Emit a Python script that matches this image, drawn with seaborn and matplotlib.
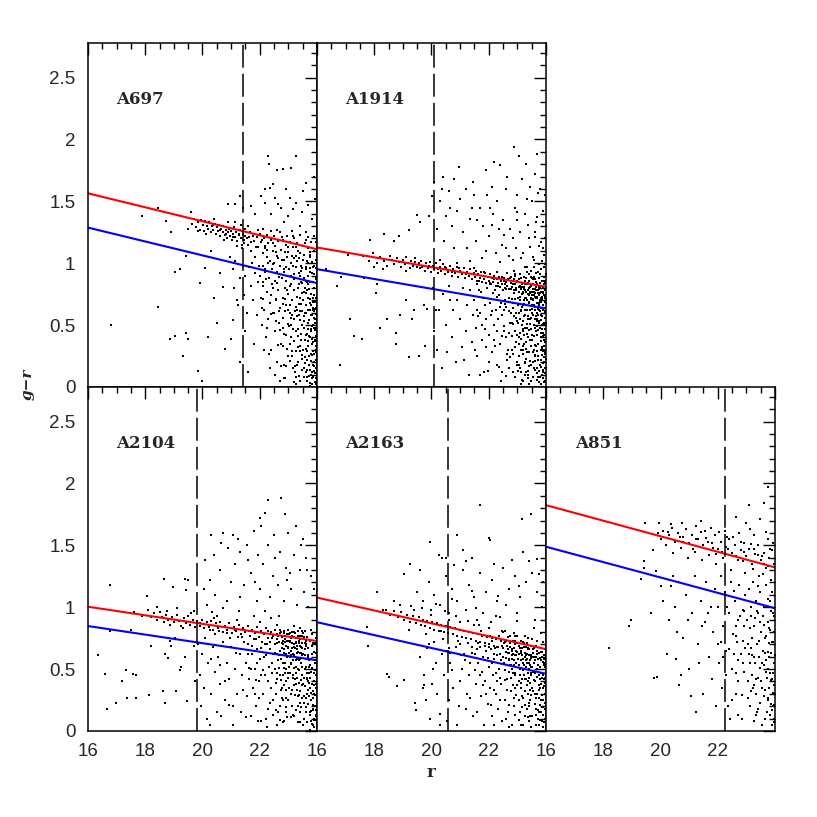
import matplotlib
matplotlib.use("Agg")
import pandas as pd
import matplotlib.pyplot as plt
import seaborn as sns
from matplotlib.ticker import MultipleLocator, FuncFormatter

clusters = ["A697", "A1914", "A2104", "A2163", "A851"]
# red / blue line values at r=16 and r=24
red_ends = [(1.565, 1.113), (1.127, 0.810), (1.004, 0.727), (1.078, 0.661), (1.825, 1.322)]
blue_ends = [(1.288, 0.839), (0.952, 0.635), (0.848, 0.571), (0.879, 0.462), (1.489, 0.992)]
mag_limits = [21.42, 20.08, 19.81, 20.57, 22.24]

a697 = [(22.3,1.87),(22.31,1.8),(23.28,1.87),(22.6,1.75),(22.8,1.76),(23.1,1.77),(22.47,1.64),(22.35,1.61),(22.93,1.6),(23.63,1.65),(22.06,1.54),(22.53,1.53),(23.05,1.53),(22.18,1.49),(22.64,1.48),(21.71,1.46),(21.3,1.54),(20.9,1.48),(21.13,1.48),(23.28,1.49),(21.83,1.4),(22.41,1.4),(22.99,1.38),(23.46,1.41),(23.81,1.36),(23.93,1.52),(21.42,1.45),
(23.5,1.58),(22.75,1.45),(23.7,1.47),(23.15,1.44),(22.2,1.6),(23.9,1.7),(23.4,1.3),(22.85,1.33),
(16.8,0.5),(18.45,0.65),(18.85,0.39),(19.03,0.41),(19.32,0.25),(19.44,0.44),(19.5,0.39),(19.85,0.13),(20.0,0.05),(19.9,0.84),(20.08,0.96),(20.2,0.4),(20.5,0.52),(20.7,0.81),(20.78,0.31),(21.07,0.54),(21.0,0.39),(19.03,0.93),(19.2,0.95),(19.44,1.06),(18.45,1.45),(18.74,1.34),(18.9,1.25),(19.26,1.38),(19.5,1.28),(19.6,1.41),(17.9,1.38),(20.3,1.1),(20.6,0.92),(20.95,1.05),(20.4,0.72),(21.2,0.7),
(19.62,1.32),(19.7,1.36),(19.78,1.29),(19.85,1.33),(19.9,1.27),(19.95,1.35),(20.02,1.31),(20.06,1.26),(20.1,1.34),(20.15,1.3),(20.2,1.28),(20.24,1.33),(20.3,1.25),(20.33,1.3),(20.38,1.27),(20.42,1.32),(20.46,1.24),(20.5,1.29),(20.55,1.26),(20.58,1.31),(20.62,1.22),(20.66,1.28),(20.7,1.25),(20.73,1.3),(20.78,1.23),(20.81,1.27),(20.85,1.2),(20.88,1.25),(20.92,1.28),(20.96,1.22),(21.0,1.26),(21.03,1.19),(21.07,1.24),(21.1,1.29),(21.14,1.21),(21.18,1.25),(21.22,1.18),(21.26,1.23),(21.3,1.27),(21.33,1.2),(21.37,1.15),(21.4,1.24),(21.44,1.19),(21.48,1.22),(21.35,1.31),(21.38,1.12),(21.5,1.28),(20.4,1.36),(20.9,1.33),(21.15,1.33),
(21.55,1.2),(21.6,1.15),(21.65,1.25),(21.7,1.1),(21.75,1.22),(21.8,1.18),(21.85,1.05),(21.9,1.21),(21.95,1.13),(22.0,1.24),(22.05,1.17),(22.1,1.08),(22.15,1.2),(22.2,1.12),(22.25,1.23),(22.3,1.16),(22.35,1.02),(22.4,1.19),(22.45,1.1),(22.5,1.22),(22.55,1.14),(22.6,1.06),(22.65,1.18),(22.7,1.25),(22.75,1.11),(22.8,1.19),(22.85,1.03),(22.9,1.15),(22.95,1.22),(23.0,1.09),(23.05,1.17),(23.1,1.0),(23.15,1.13),(23.2,1.2),(23.25,1.06),(23.3,1.16),(23.35,1.1),(23.4,1.23),(23.45,0.98),(23.5,1.14),(23.55,1.07),(23.6,1.19),(23.65,1.02),(23.7,1.12),(23.75,1.05),(23.8,1.17),(23.85,0.97),(23.9,1.1),(23.95,1.03),(21.58,1.3),(22.12,1.28),(22.62,1.27),(23.12,1.26),(23.62,1.25),(23.88,1.22),
(21.05,0.95),(21.1,0.8),(21.15,1.02),(21.25,0.66),(21.3,0.88),(21.4,0.98),(21.45,0.74),(21.5,0.9),(21.55,0.6),(21.62,0.97),(21.68,0.82),(21.72,1.0),(21.78,0.7),(21.84,0.92),(21.9,0.58),(21.93,0.85),(21.97,0.98),(21.5,0.45),(21.8,0.35),(21.3,0.2),(21.6,0.12),
(22.02,0.9),(22.05,0.72),(22.08,0.5),(22.1,0.98),(22.13,0.82),(22.16,0.62),(22.2,0.93),(22.22,0.4),(22.25,0.77),(22.28,1.0),(22.3,0.55),(22.33,0.88),(22.36,0.68),(22.4,0.3),(22.42,0.95),(22.45,0.8),(22.48,0.6),(22.5,1.0),(22.52,0.45),(22.55,0.86),(22.58,0.7),(22.6,0.2),(22.62,0.93),(22.65,0.78),(22.68,0.52),(22.7,0.98),(22.72,0.64),(22.75,0.35),(22.78,0.88),(22.8,0.72),(22.82,0.56),(22.85,0.95),(22.88,0.8),(22.9,0.42),(22.92,0.66),(22.95,0.9),(22.97,0.25),(22.15,0.3),(22.35,0.15),(22.55,0.1),(22.7,0.05),(22.85,0.18),(22.25,1.05),(22.65,1.04),(22.95,1.05),(22.4,0.74),(22.6,0.84),(22.8,0.48),(22.5,0.6),(22.12,0.85),
(23.02,0.95),(23.04,0.6),(23.06,0.82),(23.08,0.4),(23.1,0.9),(23.12,0.7),(23.14,0.25),(23.16,0.98),(23.18,0.55),(23.2,0.78),(23.22,0.12),(23.24,0.88),(23.26,0.65),(23.28,0.45),(23.3,1.02),(23.32,0.8),(23.34,0.32),(23.36,0.92),(23.38,0.58),(23.4,0.72),(23.42,0.05),(23.44,0.85),(23.46,0.5),(23.48,0.96),(23.05,0.35),(23.15,0.15),(23.25,0.08),(23.35,0.2),(23.45,0.38),(23.2,1.04),(23.1,0.5),(23.3,0.62),(23.4,0.9),(23.0,0.75),
(23.5,0.7),(23.52,0.3),(23.54,0.88),(23.56,0.15),(23.58,0.6),(23.6,0.95),(23.62,0.42),(23.64,0.78),(23.66,0.05),(23.68,0.52),(23.7,1.0),(23.72,0.25),(23.74,0.68),(23.76,0.85),(23.78,0.1),(23.8,0.45),(23.82,0.92),(23.84,0.35),(23.86,0.62),(23.88,0.2),(23.9,0.8),(23.92,0.04),(23.94,0.55),(23.96,0.3),(23.98,0.72),(23.55,0.48),(23.65,0.22),(23.75,0.4),(23.85,0.08),(23.95,0.15),(23.6,0.6),(23.7,0.33),(23.8,0.58),(23.9,0.48),(23.53,0.08),(23.63,0.12),(23.73,0.18),(23.83,0.26),(23.93,0.38),(23.58,0.8),(23.68,0.9),(23.78,0.75),(23.88,0.98),(23.98,0.88),(23.51,1.03),(23.99,0.5),(23.97,0.22),(23.87,0.5),(23.77,0.62),(23.67,0.72),(23.57,0.38),(23.95,0.64),(23.85,0.72),(23.75,0.96),(23.65,0.85)]

a697_extra = [(23.93,0.63),(23.81,0.12),(23.67,0.37),(23.89,0.91),(23.74,0.03),(23.96,0.41),(23.58,0.19),(23.83,0.49),(23.71,0.79),(23.97,0.07),(23.62,0.66),(23.86,0.29),(23.77,0.93),(23.91,0.17),(23.54,0.57),(23.99,0.81),(23.69,0.47),(23.79,0.27),(23.87,0.69),(23.94,0.11),(23.61,0.86),(23.73,0.54),(23.84,0.02),(23.57,0.24),(23.98,0.33),(23.66,0.14),(23.92,0.46),(23.76,0.71),(23.82,0.39),(23.63,0.97),(23.89,0.56),(23.71,0.09),(23.95,0.87),(23.53,0.77),(23.85,0.64),(23.78,0.21),(23.97,0.59),(23.64,0.43),(23.88,0.13),(23.75,1.07),
(23.43,0.67),(23.27,0.29),(23.38,0.83),(23.12,0.58),(23.47,0.14),(23.21,0.91),(23.33,0.47),(23.06,0.21),(23.41,1.08),(23.18,0.37),(23.29,0.73),(23.49,0.26),(23.09,0.83),(23.36,0.09),(23.24,0.61),(23.44,0.43),(23.14,1.06),(23.31,0.18),(23.02,0.49),(23.46,0.76),(23.19,0.04),(23.39,0.54),(23.26,0.97),(23.07,0.66),(23.48,0.61),
(22.87,0.61),(22.63,0.34),(22.91,0.97),(22.74,0.17),(22.56,0.71),(22.83,0.43),(22.69,0.89),(22.94,0.31),(22.58,0.53),(22.78,1.03),(22.66,0.61),(22.89,0.07),(22.52,0.86),(22.81,0.67),(22.71,0.46),(22.96,0.78),
(22.43,0.83),(22.27,0.48),(22.11,0.71),(22.38,0.59),(22.19,0.95),(22.33,0.27),(22.07,0.64),(22.46,0.99),(22.23,0.87),
(21.71,1.17),(21.93,1.27),(22.17,1.14),(22.38,1.26),(22.57,1.09),(22.78,1.21),(22.97,1.13),(23.17,1.22),(23.37,1.04),(23.57,1.16),(23.77,1.09),(23.97,1.17),(22.08,1.19),(22.48,1.16),(22.88,1.09),(23.28,1.13),(23.68,1.21),(21.88,1.13),(21.63,1.21),(22.27,1.11),
(20.12,1.24),(20.36,1.31),(20.61,1.27),(20.83,1.24),(21.06,1.21),(21.28,1.24),(21.46,1.16),(19.86,1.26),(20.74,1.19),(21.21,1.14)]

a697_more = [(23.94,0.52),(23.86,0.18),(23.79,0.66),(23.97,0.28),(23.72,0.41),(23.9,0.74),(23.65,0.08),(23.98,0.96),(23.83,0.58),(23.76,0.14),(23.92,0.37),(23.68,0.62),(23.85,0.85),(23.99,0.16),(23.6,0.31),(23.8,0.47),(23.95,0.02),(23.7,0.83),(23.88,0.27),(23.56,0.53),(23.93,0.69),(23.74,0.93),(23.82,0.07),(23.96,0.48),(23.62,0.76),(23.87,0.36),(23.77,0.01),(23.91,0.61),(23.66,0.29),(23.84,1.01),
(23.46,0.23),(23.31,0.57),(23.39,0.33),(23.17,0.47),(23.44,0.94),(23.23,0.17),(23.36,0.67),(23.08,0.56),(23.42,0.29),(23.2,0.87),(23.33,0.41),(23.48,0.84),(23.11,0.29),(23.27,0.02),(23.4,0.61),
(22.89,0.71),(22.93,0.17),(22.84,0.93),(22.97,0.51),(22.82,0.33),(22.91,0.86),(22.86,0.07),(22.98,0.62)]

a1914 = [(22.88,1.94),(23.05,1.87),(22.4,1.79),(21.9,1.75),(20.4,1.7),(20.78,1.68),(20.08,1.66),(23.3,1.8),(23.6,1.72),(22.1,1.62),(21.2,1.6),(20.6,1.58),(21.5,1.55),(22.6,1.6),(23.8,1.6),(23.0,1.55),(21.0,1.52),(22.3,1.5),(20.3,1.5),(23.5,1.5),(21.7,1.45),(22.9,1.45),(20.9,1.42),(22.15,1.4),(23.25,1.4),(23.9,1.42),(20.5,1.38),(21.35,1.36),(22.5,1.35),(23.65,1.33),(21.8,1.3),(20.7,1.3),(22.75,1.28),(23.1,1.25),(21.1,1.25),(20.2,1.28),(22.0,1.22),(23.4,1.2),(23.95,1.2),(21.55,1.18),(22.45,1.15),(20.45,1.18),(23.75,1.14),(22.95,1.12),(21.25,1.12),(21.9,1.1),(23.2,1.08),(20.8,1.12),(22.25,1.08),(23.55,1.05),(23.85,1.02),(22.7,1.06),(21.6,1.35),(22.05,1.45),(22.65,1.7),(23.45,1.62),(23.15,1.68),(21.45,1.66),(20.95,1.78),(23.7,1.88),(22.2,1.82),(23.99,1.3),(23.98,1.55),(23.35,1.52),(22.85,1.2),(21.4,1.45),(20.65,1.45),(23.6,1.25),(22.55,1.23),(23.9,1.12),(23.0,1.35),(22.35,1.28),(21.95,1.55),(20.35,1.6),
(16.7,0.82),(16.8,0.18),(17.14,0.55),(17.28,0.41),(17.57,0.39),(16.84,0.89),(17.08,1.07),(17.86,1.19),(18.33,1.24),(18.07,0.76),(18.21,0.48),(18.45,0.55),(18.76,0.44),(18.77,0.35),(18.91,0.58),(19.12,0.7),(19.32,0.55),(19.38,0.62),(19.2,0.24),(19.55,0.25),(19.79,0.33),(19.73,0.66),(19.85,0.63),(19.2,1.27),(19.5,1.39),(19.61,1.33),(19.9,1.38),(20.02,1.54),(18.68,1.18),(18.86,1.22),(18.1,0.83),(17.63,0.88),(16.3,0.95),
(17.6,1.06),(17.8,1.02),(17.95,1.08),(18.1,1.0),(18.2,1.05),(18.35,1.02),(18.45,0.98),(18.55,1.06),(18.62,1.03),(18.7,0.99),(18.78,1.04),(18.85,1.01),(18.92,0.97),(19.0,1.03),(19.06,0.99),(19.12,1.05),(19.18,1.0),(19.24,0.96),(19.3,1.02),(19.36,0.98),(19.42,1.04),(19.48,0.97),(18.3,0.95),(19.1,0.94),(18.0,0.97),
(19.55,1.0),(19.6,0.96),(19.65,1.02),(19.7,0.98),(19.76,0.94),(19.82,1.0),(19.88,0.96),(19.94,1.01),(20.0,0.93),(20.05,0.98),(20.1,0.95),(20.16,1.0),(20.22,0.92),(20.28,0.97),(20.34,0.94),(20.4,0.99),(20.46,0.91),(20.52,0.96),(20.58,0.93),(20.64,0.98),(20.7,0.9),(20.76,0.95),(20.82,0.92),(20.88,0.97),(20.94,0.89),(21.0,0.94),(21.06,0.91),(21.12,0.96),(21.18,0.88),(21.24,0.93),(21.3,0.9),(21.36,0.95),(21.42,0.87),(21.48,0.92),(20.3,1.03),(20.9,1.0),
(21.52,0.89),(21.56,0.94),(21.6,0.86),(21.64,0.91),(21.68,0.88),(21.72,0.93),(21.76,0.85),(21.8,0.9),(21.84,0.87),(21.88,0.92),(21.92,0.84),(21.96,0.89),(22.0,0.86),(22.04,0.91),(22.08,0.83),(22.12,0.88),(22.16,0.85),(22.2,0.9),(22.24,0.82),(22.28,0.87),(22.32,0.84),(22.36,0.89),(22.4,0.81),(22.44,0.86),(22.48,0.83),(22.52,0.88),(22.56,0.8),(22.6,0.85),(22.64,0.82),(22.68,0.87),(22.72,0.79),(22.76,0.84),(22.8,0.81),(22.84,0.86),(22.88,0.78),(22.92,0.83),(22.96,0.8),(23.0,0.85),(23.04,0.77),(23.08,0.82),(23.12,0.79),(23.16,0.84),(23.2,0.76),(23.24,0.81),(23.28,0.78),(23.32,0.83),(23.36,0.75),(23.4,0.8),(23.44,0.77),(23.48,0.82),(23.52,0.74),(23.56,0.79),(23.6,0.76),(23.64,0.81),(23.68,0.73),(23.72,0.78),(23.76,0.75),(23.8,0.8),(23.84,0.72),(23.88,0.77),(23.92,0.74),(23.96,0.79),(23.99,0.71),(22.3,0.93),(22.9,0.9),(23.5,0.88),(23.9,0.86),(23.3,0.72),(23.7,0.68),(23.1,0.7),
(20.05,0.8),(20.1,0.45),(20.2,0.3),(20.25,0.62),(20.35,0.15),(20.4,0.75),(20.5,0.5),(20.55,0.28),(20.6,0.82),(20.7,0.4),(20.75,0.62),(20.85,0.2),(20.9,0.7),(21.0,0.55),(21.05,0.32),(21.1,0.8),(21.2,0.45),(21.25,0.66),(21.3,0.1),(21.35,0.78),(21.4,0.36),(21.45,0.58),(20.15,0.62),(20.65,0.7),(21.15,0.22),
(21.5,0.7),(21.55,0.48),(21.6,0.25),(21.65,0.78),(21.7,0.6),(21.75,0.38),(21.8,0.72),(21.85,0.12),(21.9,0.55),(21.95,0.8),(22.0,0.42),(22.05,0.68),(22.1,0.28),(22.15,0.76),(22.2,0.5),(22.25,0.62),(22.3,0.18),(22.35,0.74),(22.4,0.35),(22.45,0.58),(22.5,0.78),(22.55,0.45),(22.6,0.65),(22.65,0.22),(22.7,0.72),(22.75,0.52),(22.8,0.3),(22.85,0.68),(22.9,0.08),(22.95,0.6),(21.52,0.3),(21.68,0.1),(21.88,0.66),(22.02,0.2),(22.18,0.38),(22.32,0.55),(22.48,0.12),(22.62,0.4),(22.78,0.6),(22.92,0.45),(22.22,0.78),(22.58,0.7),(22.88,0.76),(21.78,0.5),(22.42,0.05),(22.68,0.3),(22.98,0.2),(21.6,0.62),(22.08,0.58),(22.52,0.62),(22.72,0.15),(22.82,0.52),(21.92,0.32),(22.28,0.45),(22.38,0.65),
(23.02,0.72),(23.04,0.4),(23.06,0.6),(23.08,0.15),(23.1,0.55),(23.12,0.8),(23.14,0.3),(23.16,0.65),(23.18,0.45),(23.2,0.05),(23.22,0.7),(23.24,0.35),(23.26,0.58),(23.28,0.2),(23.3,0.77),(23.32,0.48),(23.34,0.62),(23.36,0.1),(23.38,0.4),(23.4,0.68),(23.42,0.28),(23.44,0.55),(23.46,0.72),(23.48,0.18),(23.5,0.6),(23.52,0.38),(23.54,0.7),(23.56,0.08),(23.58,0.5),(23.6,0.65),(23.62,0.25),(23.64,0.45),(23.66,0.72),(23.68,0.15),(23.7,0.55),(23.72,0.35),(23.74,0.62),(23.76,0.04),(23.78,0.48),(23.8,0.7),(23.82,0.22),(23.84,0.58),(23.86,0.32),(23.88,0.66),(23.9,0.12),(23.92,0.52),(23.94,0.42),(23.96,0.6),(23.98,0.28),(23.99,0.68),
(23.05,0.25),(23.15,0.5),(23.25,0.1),(23.35,0.7),(23.45,0.38),(23.55,0.58),(23.65,0.33),(23.75,0.52),(23.85,0.1),(23.95,0.72),
(23.03,0.52),(23.13,0.12),(23.23,0.42),(23.33,0.28),(23.43,0.62),(23.53,0.2),(23.63,0.55),(23.73,0.08),(23.83,0.4),(23.93,0.2),
(23.07,0.35),(23.17,0.75),(23.27,0.48),(23.37,0.55),(23.47,0.05),(23.57,0.74),(23.67,0.42),(23.77,0.68),(23.87,0.5),(23.97,0.36),
(23.11,0.62),(23.21,0.3),(23.31,0.12),(23.41,0.46),(23.51,0.66),(23.61,0.14),(23.71,0.76),(23.81,0.3),(23.91,0.62),(23.98,0.05),
(23.58,0.3),(23.68,0.6),(23.78,0.18),(23.88,0.44),(23.95,0.5),(23.62,0.48),(23.72,0.25),(23.82,0.64),(23.92,0.3),(23.97,0.15)]

a1914_extra = [(23.93,0.83),(23.87,0.57),(23.79,0.91),(23.96,0.27),(23.71,0.63),(23.89,0.07),(23.63,0.87),(23.97,0.47),(23.81,0.37),(23.74,0.81),(23.91,0.19),(23.67,0.53),(23.84,0.69),(23.99,0.91),(23.59,0.41),(23.77,0.13),(23.94,0.64),(23.69,0.29),(23.86,0.86),(23.55,0.71),(23.92,0.33),(23.73,0.46),(23.83,0.02),(23.98,0.74),(23.61,0.21),(23.88,0.51),(23.76,0.66),(23.95,0.11),(23.65,0.78),(23.81,0.58),(23.9,0.41),(23.57,0.89),(23.99,0.23),(23.72,0.93),(23.85,0.31),(23.68,0.06),(23.96,0.56),(23.78,0.76),(23.62,0.62),(23.93,0.97),
(23.47,0.71),(23.33,0.43),(23.41,0.86),(23.27,0.19),(23.49,0.33),(23.13,0.61),(23.38,0.07),(23.22,0.79),(23.44,0.51),(23.09,0.44),(23.31,0.88),(23.19,0.27),(23.46,0.94),(23.03,0.13),(23.36,0.57),(23.24,0.67),(23.42,0.17),(23.16,0.83),(23.29,0.36),(23.07,0.77),(23.48,0.47),(23.21,0.53),(23.39,0.74),(23.11,0.02),(23.34,0.93),
(22.87,0.57),(22.63,0.27),(22.93,0.71),(22.71,0.44),(22.57,0.83),(22.83,0.12),(22.69,0.61),(22.96,0.36),(22.53,0.49),(22.77,0.79),(22.61,0.09),(22.89,0.87),(22.74,0.24),(22.58,0.67),(22.97,0.53),(22.81,0.41),
(22.43,0.68),(22.21,0.33),(22.37,0.16),(22.13,0.61),(22.47,0.41),(22.06,0.83),(22.29,0.73),(21.87,0.47),(21.73,0.77),(21.97,0.13),(21.63,0.57),(21.59,0.83),
(23.53,0.83),(23.58,0.77),(23.66,0.85),(23.74,0.74),(23.82,0.82),(23.91,0.76),(23.97,0.84),(23.43,0.81),(23.37,0.78),(23.26,0.86),(23.18,0.77),(23.06,0.81),(22.97,0.86),(22.83,0.83),(22.73,0.88),(22.62,0.79),(22.47,0.89),(22.33,0.82),(22.19,0.87),(22.03,0.84),(21.83,0.93),(21.66,0.86),(21.47,0.96),(21.22,0.91),(20.97,0.96),(20.72,0.93),(20.47,0.97),(20.21,0.95),(19.93,0.98),(19.67,0.97),(19.43,1.01),(23.63,0.73),(23.86,0.71),(23.51,0.77),(23.77,0.79),
(23.57,1.03),(23.83,1.17),(23.69,1.37),(23.93,1.07),(23.43,1.13),(23.27,0.97),(23.91,1.33),(23.76,0.99),(23.61,1.21),(23.13,1.04),(22.83,1.03),(22.61,1.12),(22.38,1.01),(23.37,1.31),(23.98,0.99),(22.97,1.41),(22.12,1.31),(21.77,1.04),(21.33,1.02),(23.71,1.57)]

a1914_more = [(23.95,0.78),(23.88,0.62),(23.81,0.95),(23.97,0.36),(23.73,0.58),(23.91,0.14),(23.66,0.92),(23.99,0.52),(23.84,0.44),(23.76,0.88),(23.93,0.24),(23.69,0.49),(23.86,0.73),(23.98,0.86),(23.61,0.34),(23.79,0.08),(23.96,0.69),(23.71,0.22),(23.89,0.81),(23.58,0.66),(23.94,0.38),(23.75,0.53),(23.82,0.16),(23.97,0.61),(23.63,0.26),(23.87,0.47),(23.78,0.61),(23.92,0.04),(23.67,0.72),(23.83,0.54),(23.9,0.29),(23.59,0.97),(23.99,0.15),(23.74,0.99),(23.85,0.26),(23.7,0.11),(23.96,0.51),(23.8,0.69),(23.64,0.57),(23.93,0.89),
(23.52,0.63),(23.44,0.38),(23.39,0.91),(23.31,0.23),(23.55,0.28),(23.18,0.66),(23.36,0.13),(23.25,0.72),(23.47,0.56),(23.12,0.39),(23.28,0.83),(23.21,0.33),(23.49,0.89),(23.05,0.18),(23.34,0.51),(23.26,0.62),(23.45,0.21),(23.14,0.88),(23.3,0.31),(23.09,0.73),(23.5,0.42),(23.23,0.57),(23.4,0.69),(23.16,0.06),(23.35,0.97),(23.02,0.66),(23.42,0.02),(23.19,0.47),(23.57,0.15),(23.08,0.91),
(22.86,0.64),(22.92,0.32),(22.95,0.78),(22.83,0.51),(22.99,0.18),(22.88,0.94),(22.94,0.56),(22.81,0.71),(22.97,0.42),(22.85,0.27),
(23.53,0.87),(23.68,0.83),(23.84,0.77),(23.37,0.84),(23.23,0.89),(23.06,0.87),(22.91,0.91),(23.61,0.79),(23.45,0.76),(23.95,0.73),(23.79,0.84),(23.15,0.81),(22.78,0.89),(22.65,0.92),(22.53,0.86)]

a2104 = [(22.73,1.88),(22.29,1.87),(22.18,1.76),(22.88,1.75),(22.06,1.66),(23.28,1.66),(20.7,1.6),(21.07,1.58),(20.66,1.52),(20.9,1.48),(21.3,1.45),(21.8,1.62),(22.5,1.58),(23.0,1.6),(23.5,1.55),(22.3,1.5),(21.55,1.5),(20.4,1.42),(21.95,1.42),(22.7,1.45),(23.2,1.42),(23.6,1.4),(20.1,1.38),(21.15,1.35),(22.1,1.35),(22.9,1.32),(23.4,1.3),(20.6,1.3),(21.7,1.28),(23.8,1.25),(22.45,1.25),(20.25,1.22),(21.0,1.2),(21.45,1.18),(22.0,1.15),(22.65,1.18),(23.1,1.15),(23.55,1.12),(20.45,1.1),(20.85,1.05),(21.3,1.08),(21.9,1.05),(22.35,1.08),(22.85,1.05),(23.3,1.02),(23.7,1.0),(20.15,1.02),(20.05,1.15),(21.6,1.38),(22.55,1.4),(23.05,1.28),(23.9,1.15),(21.25,1.55),(22.0,1.72),(23.45,1.5),(20.3,1.58),(22.95,1.22),(21.85,1.2),(23.65,1.3),
(16.78,1.18),(18.66,1.23),(19.38,1.23),(19.5,1.22),(18.97,1.16),(18.07,1.09),(19.44,1.14),(16.76,0.81),(16.35,0.61),(16.6,0.46),(16.68,0.18),(16.99,0.23),(17.2,0.4),(17.34,0.49),(17.57,0.46),(17.69,0.45),(17.38,0.27),(17.69,0.27),(18.12,0.29),(18.19,0.69),(18.62,0.32),(18.7,0.23),(18.7,0.62),(18.8,0.59),(18.91,0.69),(19.03,0.75),(18.86,0.73),(19.26,0.52),(19.38,0.6),(19.2,0.49),(19.09,0.32),(19.46,0.24),(19.73,0.4),(19.71,0.69),(17.5,0.82),
(17.6,0.96),(17.9,0.93),(18.1,0.98),(18.2,0.92),(18.3,0.95),(18.4,0.9),(18.5,0.96),(18.58,0.92),(18.65,0.88),(18.72,0.94),(18.8,0.9),(18.88,0.86),(18.95,0.92),(19.02,0.88),(19.1,0.94),(19.18,0.89),(19.26,0.85),(19.34,0.91),(19.42,0.87),(19.5,0.93),(19.58,0.86),(19.66,0.9),(19.74,0.84),(19.82,0.89),(19.9,0.85),(19.98,0.9),(20.06,0.83),(20.14,0.88),(20.22,0.84),(20.3,0.89),(20.38,0.82),(20.46,0.87),(20.54,0.83),(20.62,0.88),(20.7,0.8),(20.78,0.85),(20.86,0.82),(20.94,0.87),(21.02,0.79),(21.1,0.84),(21.18,0.81),(21.26,0.86),(21.34,0.78),(21.42,0.83),(21.5,0.8),(21.58,0.85),(21.66,0.77),(21.74,0.82),(21.82,0.79),(21.9,0.84),(21.98,0.76),(22.06,0.81),(22.14,0.78),(22.22,0.83),(22.3,0.75),(22.38,0.8),(22.46,0.77),(22.54,0.82),(22.62,0.74),(22.7,0.79),(22.78,0.76),(22.86,0.81),(22.94,0.73),(23.02,0.78),(23.1,0.75),(23.18,0.8),(23.26,0.72),(23.34,0.77),(23.42,0.74),(23.5,0.79),(23.58,0.71),(23.66,0.76),(23.74,0.73),(23.82,0.78),(23.9,0.7),(23.98,0.75),(18.4,1.0),(19.1,0.99),(19.7,0.97),(20.5,0.93),(21.2,0.9),(22.0,0.88),(22.6,0.86),(23.2,0.85),(23.8,0.82),
(19.85,0.7),(19.9,0.45),(19.95,0.2),(20.0,0.62),(20.05,0.35),(20.1,0.75),(20.15,0.1),(20.2,0.55),(20.28,0.3),(20.35,0.68),(20.42,0.48),(20.5,0.15),(20.55,0.6),(20.62,0.38),(20.7,0.72),(20.78,0.25),(20.85,0.55),(20.92,0.42),(21.0,0.68),(21.08,0.05),(21.15,0.5),(21.22,0.3),(21.3,0.62),(21.38,0.45),(21.45,0.72),(20.25,0.05),(20.65,0.12),(21.05,0.2),(21.35,0.15),(20.95,0.75),(20.45,0.78),(21.25,0.76),(20.3,0.58),(20.8,0.4),
(21.52,0.55),(21.56,0.28),(21.6,0.7),(21.64,0.42),(21.68,0.12),(21.72,0.62),(21.76,0.35),(21.8,0.74),(21.84,0.5),(21.88,0.2),(21.92,0.66),(21.96,0.4),(22.0,0.58),(22.04,0.08),(22.08,0.72),(22.12,0.3),(22.16,0.6),(22.2,0.45),(22.24,0.7),(22.28,0.18),(22.32,0.52),(22.36,0.66),(22.4,0.35),(22.44,0.75),(22.48,0.25),(21.58,0.62),(21.7,0.5),(21.82,0.3),(21.94,0.08),(22.06,0.45),(22.18,0.7),(22.3,0.4),(22.42,0.55),(22.22,0.1),(21.9,0.55),(22.46,0.62),
(22.52,0.7),(22.55,0.5),(22.58,0.3),(22.6,0.78),(22.62,0.62),(22.65,0.15),(22.68,0.72),(22.7,0.45),(22.72,0.65),(22.75,0.8),(22.78,0.35),(22.8,0.7),(22.82,0.55),(22.85,0.08),(22.88,0.74),(22.9,0.62),(22.92,0.4),(22.95,0.78),(22.98,0.25),(23.0,0.68),(23.02,0.52),(23.05,0.72),(23.08,0.3),(23.1,0.65),(23.12,0.8),(23.15,0.45),(23.18,0.7),(23.2,0.12),(23.22,0.6),(23.25,0.75),(23.28,0.38),(23.3,0.66),(23.32,0.5),(23.35,0.2),(23.38,0.72),(23.4,0.58),(23.42,0.32),(23.45,0.68),(23.48,0.45),(23.5,0.05),(23.52,0.62),(23.55,0.28),(23.58,0.5),(23.6,0.7),(23.62,0.15),(23.65,0.42),(23.68,0.6),(23.7,0.22),(23.72,0.52),(23.75,0.35),(23.78,0.08),(23.8,0.48),(23.82,0.62),(23.85,0.18),(23.88,0.4),(23.9,0.3),(23.92,0.55),(23.95,0.12),(23.98,0.45),(23.99,0.25),
(22.6,0.42),(22.75,0.58),(22.9,0.5),(23.05,0.6),(23.15,0.62),(23.25,0.52),(23.35,0.64),(23.45,0.55),(22.7,0.82),(22.85,0.66),(23.0,0.82),(23.2,0.68),(23.4,0.74),(22.95,0.6),(23.1,0.55),(23.3,0.58),(22.8,0.45),(23.6,0.58),(23.7,0.4),(23.8,0.25),(23.9,0.1),(23.96,0.35),(23.75,0.15),(23.85,0.05),(23.65,0.3),(23.55,0.1),(23.92,0.2),(23.82,0.38),(23.72,0.28),(23.62,0.52),(23.52,0.38),(23.42,0.15),(23.32,0.28),(23.22,0.42),(23.12,0.2),(23.02,0.35),(22.92,0.15),(22.82,0.25),(22.72,0.2),(22.62,0.05)]

a2104_extra = [(23.93,0.57),(23.86,0.21),(23.77,0.43),(23.97,0.09),(23.69,0.67),(23.89,0.37),(23.61,0.27),(23.96,0.63),(23.74,0.13),(23.83,0.51),(23.91,0.03),(23.66,0.47),(23.79,0.31),(23.99,0.41),(23.57,0.61),(23.87,0.17),(23.71,0.57),(23.94,0.29),(23.64,0.07),(23.81,0.69),(23.98,0.17),(23.73,0.39),(23.53,0.43),(23.88,0.47),(23.76,0.01),
(23.43,0.63),(23.27,0.71),(23.37,0.57),(23.13,0.67),(23.47,0.77),(23.21,0.61),(23.33,0.81),(23.06,0.73),(23.41,0.69),(23.17,0.57),(23.29,0.63),(23.49,0.67),(23.09,0.61),(23.36,0.73),(23.24,0.79),(23.44,0.59),(23.14,0.71),(23.31,0.69),(23.02,0.63),(23.46,0.81),(23.19,0.76),(23.39,0.63),(23.26,0.57),(23.07,0.79),(23.48,0.71),(22.93,0.69),(22.87,0.77),(22.83,0.63),(22.97,0.73),(22.79,0.71),(23.57,0.66),(23.63,0.73),(23.53,0.76),(23.67,0.61),(23.59,0.81),
(23.43,0.41),(23.27,0.17),(23.37,0.49),(23.13,0.33),(23.47,0.27),(23.21,0.51),(23.33,0.07),(23.06,0.47),(23.41,0.23),(23.17,0.13),(23.29,0.43),(23.49,0.37),(23.09,0.11),(23.36,0.39),(23.24,0.29),
(22.87,0.47),(22.63,0.57),(22.93,0.33),(22.71,0.09),(22.57,0.39),(22.83,0.79),(22.69,0.51),(22.96,0.11),(22.53,0.63),(22.77,0.27),(22.61,0.71),(22.89,0.55),(22.74,0.41),(22.58,0.17),(22.97,0.43),(22.81,0.07),
(22.43,0.47),(22.21,0.61),(22.37,0.23),(22.13,0.49),(22.47,0.13),(22.06,0.67),(22.29,0.81),(21.87,0.41),(21.73,0.69),(21.97,0.27),(21.63,0.51),(21.43,0.33),(21.17,0.63),(20.93,0.21),(20.61,0.53),(21.53,0.11),(22.27,0.03),(22.41,0.91),(21.79,0.93),(21.27,0.97),(20.73,0.99),(20.33,0.96),(22.19,0.97),(22.69,0.93),
(19.93,0.87),(20.27,0.82),(20.57,0.81),(20.87,0.79),(21.13,0.82),(21.37,0.76),(21.63,0.81),(21.87,0.74),(22.13,0.79),(22.37,0.72),(22.63,0.77),(22.87,0.72),(23.13,0.77),(23.37,0.71),(23.63,0.69),(23.87,0.71),(19.33,0.83),(18.77,0.97),(19.61,0.95),(20.41,0.91)]

a2104_more = [(23.94,0.49),(23.87,0.27),(23.78,0.58),(23.97,0.13),(23.7,0.33),(23.9,0.64),(23.63,0.19),(23.98,0.38),(23.82,0.06),(23.75,0.53),(23.92,0.71),(23.66,0.43),(23.85,0.32),(23.99,0.03),(23.59,0.36),(23.8,0.16),(23.95,0.55),(23.72,0.47),(23.88,0.09),(23.56,0.23),
(23.46,0.61),(23.31,0.33),(23.39,0.77),(23.17,0.43),(23.44,0.19),(23.23,0.67),(23.36,0.29),(23.08,0.54),(23.42,0.83),(23.2,0.37),(23.33,0.59),(23.48,0.52),(23.11,0.76),(23.27,0.47),(23.4,0.07),
(22.89,0.61),(22.93,0.27),(22.84,0.51),(22.97,0.67),(22.82,0.73),(22.91,0.19),(22.86,0.37),(22.98,0.47),(22.67,0.61),(22.73,0.33),(22.59,0.47),(22.77,0.67)]

a2163 = [(21.68,1.83),(23.46,1.75),(23.17,1.71),(19.94,1.53),(20.9,1.58),(22.0,1.56),(22.06,1.54),(20.25,1.42),(20.37,1.4),(20.49,1.4),(19.26,1.35),(19.05,1.27),(21.09,1.46),(21.19,1.37),(23.4,1.37),(23.69,1.39),(18.1,1.12),(17.75,0.84),(17.77,0.69),(18.45,0.46),(18.5,0.44),(18.8,0.36),(19.03,0.41),(19.44,0.23),(19.46,0.17),(19.71,0.35),(19.75,0.37),(20.02,0.38),(20.31,0.14),(20.14,0.55),(19.73,0.45),
(19.5,1.12),(19.7,1.05),(19.9,1.2),(20.1,1.1),(20.3,1.02),(20.5,1.25),(20.7,1.15),(20.9,1.05),(21.1,1.3),(21.3,1.18),(21.5,1.08),(21.7,1.28),(21.9,1.12),(22.1,1.22),(22.3,1.05),(22.5,1.32),(22.7,1.15),(22.9,1.25),(23.1,1.08),(23.3,1.2),(23.5,1.28),(23.7,1.12),(23.9,1.2),(20.0,0.98),(20.6,0.95),(21.2,0.98),(21.8,0.95),(22.4,0.92),(23.0,0.95),(23.6,0.9),(22.2,1.35),(22.8,1.38),(21.4,1.4),(20.8,1.34),(23.2,1.45),(19.6,1.3),(23.85,1.0),(22.6,1.02),(21.6,0.9),(18.7,1.05),(18.3,0.98),
(18.4,0.98),(18.55,0.94),(18.7,0.97),(18.82,0.92),(18.95,0.96),(19.05,0.9),(19.15,0.94),(19.25,0.88),(19.35,0.93),(19.45,0.87),(19.55,0.92),(19.62,0.86),(19.7,0.9),(19.78,0.85),(19.86,0.89),(19.94,0.83),(20.02,0.88),(20.1,0.82),(20.18,0.87),(20.26,0.81),(20.34,0.86),(20.42,0.8),(20.5,0.85),(20.58,0.79),(20.66,0.84),(20.74,0.78),(20.82,0.83),(20.9,0.77),(20.98,0.82),(21.06,0.76),(21.14,0.81),(21.22,0.75),(21.3,0.8),(21.38,0.74),(21.46,0.79),(21.54,0.73),(21.62,0.78),(21.7,0.72),(21.78,0.77),(21.86,0.71),(21.94,0.76),(22.02,0.7),(22.1,0.75),(22.18,0.69),(22.26,0.74),(22.34,0.68),(22.42,0.73),(22.5,0.67),(22.58,0.72),(22.66,0.66),(22.74,0.71),(22.82,0.65),(22.9,0.7),(22.98,0.64),(23.06,0.69),(23.14,0.63),(23.22,0.68),(23.3,0.62),(23.38,0.67),(23.46,0.61),(23.54,0.66),(23.62,0.6),(23.7,0.65),(23.78,0.59),(23.86,0.64),(23.94,0.58),(18.9,1.02),(19.4,0.98),(20.0,0.94),(20.6,0.9),(21.0,0.88),(21.5,0.86),(22.0,0.83),(22.5,0.8),(23.0,0.77),(23.5,0.74),(23.9,0.72),(19.2,0.82),(19.8,0.78),(20.4,0.74),(21.0,0.7),(21.6,0.66),(22.2,0.62),(22.8,0.58),(23.4,0.55),
(19.6,0.6),(19.8,0.25),(19.9,0.7),(20.05,0.5),(20.2,0.3),(20.35,0.62),(20.45,0.45),(20.55,0.08),(20.65,0.55),(20.75,0.35),(20.85,0.68),(20.95,0.2),(21.05,0.5),(21.15,0.62),(21.25,0.3),(21.35,0.55),(21.45,0.12),(20.1,0.72),(20.6,0.25),(21.0,0.4),(21.4,0.68),(20.3,0.05),(20.9,0.05),(21.2,0.18),(19.95,0.1),(20.5,0.65),(21.3,0.45),
(21.52,0.62),(21.56,0.38),(21.6,0.15),(21.64,0.55),(21.68,0.68),(21.72,0.28),(21.76,0.48),(21.8,0.6),(21.84,0.05),(21.88,0.4),(21.92,0.65),(21.96,0.22),(22.0,0.52),(22.04,0.35),(22.08,0.66),(22.12,0.12),(22.16,0.45),(22.2,0.58),(22.24,0.3),(22.28,0.68),(22.32,0.18),(22.36,0.5),(22.4,0.62),(22.44,0.38),(22.48,0.08),(22.52,0.55),(22.56,0.25),(22.6,0.64),(22.64,0.42),(22.68,0.15),(22.72,0.58),(22.76,0.32),(22.8,0.5),(22.84,0.62),(22.88,0.2),(22.92,0.45),(22.96,0.55),(21.7,0.45),(21.9,0.3),(22.1,0.55),(22.3,0.4),(22.5,0.6),(22.7,0.48),(22.9,0.35),(22.2,0.05),(22.6,0.1),(22.8,0.05),(22.0,0.68),(22.4,0.25),(22.75,0.68),(22.95,0.65),
(23.02,0.58),(23.05,0.4),(23.08,0.15),(23.1,0.5),(23.12,0.65),(23.15,0.28),(23.18,0.55),(23.2,0.05),(23.22,0.45),(23.25,0.6),(23.28,0.32),(23.3,0.52),(23.32,0.18),(23.35,0.58),(23.38,0.4),(23.4,0.08),(23.42,0.5),(23.45,0.25),(23.48,0.6),(23.5,0.35),(23.52,0.12),(23.55,0.48),(23.58,0.55),(23.6,0.22),(23.62,0.4),(23.65,0.05),(23.68,0.5),(23.7,0.3),(23.72,0.58),(23.75,0.15),(23.78,0.42),(23.8,0.52),(23.82,0.25),(23.85,0.08),(23.88,0.45),(23.9,0.35),(23.92,0.55),(23.95,0.18),(23.98,0.3),(23.99,0.48),
(23.06,0.62),(23.16,0.42),(23.26,0.12),(23.36,0.3),(23.46,0.45),(23.56,0.32),(23.66,0.6),(23.76,0.05),(23.86,0.6),(23.96,0.1),
(23.04,0.25),(23.14,0.05),(23.24,0.5),(23.34,0.62),(23.44,0.12),(23.54,0.6),(23.64,0.18),(23.74,0.45),(23.84,0.38),(23.94,0.42),
(23.11,0.35),(23.31,0.42),(23.51,0.52),(23.71,0.1),(23.91,0.25),(23.21,0.58),(23.41,0.2),(23.61,0.3),(23.81,0.15),(23.97,0.58)]

a2163_extra = [(23.93,0.53),(23.86,0.19),(23.77,0.63),(23.97,0.39),(23.69,0.44),(23.89,0.03),(23.61,0.57),(23.96,0.66),(23.74,0.33),(23.83,0.47),(23.91,0.13),(23.66,0.69),(23.79,0.21),(23.99,0.61),(23.57,0.41),(23.87,0.29),(23.71,0.53),(23.94,0.07),(23.64,0.27),(23.81,0.64),(23.98,0.43),(23.73,0.17),(23.53,0.63),(23.88,0.56),(23.76,0.37),
(23.43,0.57),(23.27,0.63),(23.37,0.47),(23.13,0.57),(23.47,0.69),(23.21,0.49),(23.33,0.71),(23.06,0.53),(23.41,0.61),(23.17,0.67),(23.29,0.57),(23.49,0.47),(23.09,0.67),(23.36,0.66),(23.24,0.71),(23.44,0.53),(23.14,0.51),(23.31,0.61),(23.02,0.71),(23.46,0.59),
(23.43,0.33),(23.27,0.21),(23.37,0.11),(23.13,0.39),(23.47,0.03),(23.21,0.27),(23.33,0.37),(23.06,0.09),(23.41,0.43),(23.17,0.19),
(22.87,0.57),(22.63,0.69),(22.93,0.47),(22.71,0.63),(22.57,0.49),(22.83,0.73),(22.69,0.57),(22.96,0.61),(22.53,0.71),(22.77,0.53),(22.61,0.59),(22.89,0.67),(22.74,0.77),(22.58,0.81),(22.97,0.71),(22.81,0.61),(22.67,0.76),(22.91,0.77),
(22.87,0.27),(22.63,0.33),(22.93,0.13),(22.71,0.21),(22.57,0.41),(22.83,0.37),(22.69,0.03),(22.96,0.29),
(22.43,0.57),(22.21,0.67),(22.37,0.77),(22.13,0.73),(22.47,0.69),(22.06,0.77),(22.29,0.61),(21.87,0.69),(21.73,0.81),(21.97,0.59),(21.63,0.71),(21.43,0.63),(21.17,0.57),(20.93,0.73),(20.61,0.67),(21.53,0.49),(22.27,0.47),(22.41,0.43),(21.79,0.37),(21.27,0.71),(20.73,0.49),(20.33,0.81),(22.19,0.33),(22.09,0.21),(21.33,0.27),
(20.87,0.93),(21.27,0.89),(21.67,0.86),(22.07,0.88),(22.47,0.81),(22.87,0.79),(23.27,0.77),(23.67,0.73),(20.47,0.97),(19.27,1.01),(19.67,0.99),(20.17,1.03),(21.57,0.99),(22.27,0.93),(22.97,0.89),(23.57,0.83),(23.81,0.79),(20.73,1.07),(21.43,1.13),(22.33,1.09),(23.07,1.17),(23.77,1.27),(19.83,0.67),(20.63,0.63),(21.03,0.61)]

a2163_more = [(23.94,0.36),(23.87,0.47),(23.78,0.09),(23.97,0.52),(23.7,0.62),(23.9,0.19),(23.63,0.47),(23.98,0.23),(23.82,0.57),(23.75,0.27),(23.92,0.61),(23.66,0.13),(23.85,0.43),(23.99,0.11),(23.59,0.67),(23.8,0.35),
(23.46,0.52),(23.31,0.68),(23.39,0.23),(23.17,0.61),(23.44,0.39),(23.23,0.53),(23.36,0.75),(23.08,0.45),(23.42,0.66),(23.2,0.72),(23.33,0.55),(23.48,0.29),(23.11,0.73),(23.27,0.42),
(22.89,0.53),(22.93,0.73),(22.84,0.47),(22.97,0.37),(22.82,0.66),(22.91,0.61),(22.67,0.63),(22.73,0.53),(22.59,0.73),(22.77,0.43)]

a851 = [(18.21,0.67),(18.89,0.85),(18.97,0.9),(19.32,1.23),(19.44,1.37),(19.41,1.32),(19.67,0.95),(19.73,1.46),(19.79,0.43),(19.87,0.44),(20.02,1.17),(19.85,1.29),(20.22,0.62),(20.35,1.17),(20.55,0.58),(20.66,0.37),(20.57,0.8),(20.51,1.0),
(19.46,1.68),(19.96,1.68),(20.37,1.67),(21.4,1.7),(22.64,1.73),(23.09,1.83),(23.75,1.97),(23.63,1.84),(23.46,1.71),(23.0,1.68),
(19.9,1.6),(20.0,1.55),(20.1,1.62),(20.2,1.5),(20.3,1.58),(20.4,1.64),(20.5,1.53),(20.6,1.6),(20.7,1.48),(20.8,1.57),(20.9,1.63),(21.0,1.52),(21.1,1.58),(21.2,1.45),(21.3,1.55),(21.4,1.61),(21.5,1.5),(21.6,1.56),(21.7,1.42),(21.8,1.52),(21.9,1.58),(22.0,1.47),(22.1,1.53),(22.2,1.4),(22.3,1.49),(22.4,1.55),(22.5,1.44),(22.6,1.5),(22.7,1.38),(22.8,1.46),(22.9,1.52),(23.0,1.41),(23.1,1.47),(23.2,1.35),(23.3,1.43),(23.4,1.5),(23.5,1.38),(23.6,1.44),(23.7,1.32),(23.8,1.4),(23.9,1.46),(23.95,1.35),(20.45,1.44),(20.95,1.4),(21.45,1.38),(21.95,1.35),(22.45,1.3),(22.95,1.28),(23.45,1.25),(23.85,1.22),(21.25,1.66),(21.75,1.64),(22.25,1.62),(22.75,1.6),(23.25,1.58),(23.75,1.55),(20.75,1.68),(22.15,1.45),(21.85,1.48),
(20.1,1.05),(20.3,0.9),(20.6,1.2),(20.8,0.75),(20.9,1.1),(21.0,0.5),(21.1,0.95),(21.2,1.25),(21.3,0.7),(21.4,1.05),(21.5,0.3),(21.55,0.88),(21.6,1.2),(21.7,0.6),(21.75,1.0),(21.8,0.42),(21.85,0.8),(21.9,1.15),(21.95,0.2),(22.0,0.7),(20.7,0.45),(21.05,0.28),(21.35,0.55),(21.65,0.95),(20.45,1.25),(21.45,0.85),(21.25,0.15),(20.95,0.9),
(22.02,1.0),(22.05,0.55),(22.1,1.25),(22.15,0.35),(22.2,0.85),(22.25,1.12),(22.3,0.65),(22.35,0.2),(22.4,0.95),(22.45,1.2),(22.5,0.5),(22.55,0.78),(22.6,1.05),(22.65,0.3),(22.7,0.9),(22.75,1.18),(22.8,0.62),(22.85,0.1),(22.9,0.85),(22.95,1.1),(22.12,0.72),(22.28,0.45),(22.42,0.1),(22.58,0.62),(22.72,0.4),(22.88,0.98),(22.32,1.0),(22.5,0.25),(22.68,0.72),(22.92,0.48),(22.2,0.6),(22.62,0.85),
(23.02,0.9),(23.05,0.4),(23.08,1.15),(23.1,0.62),(23.12,0.2),(23.15,1.0),(23.18,0.75),(23.2,0.45),(23.22,1.2),(23.25,0.08),(23.28,0.85),(23.3,0.55),(23.32,1.05),(23.35,0.3),(23.38,0.7),(23.4,0.95),(23.42,0.18),(23.45,0.6),(23.48,1.12),(23.5,0.4),(23.52,0.8),(23.55,0.05),(23.58,0.65),(23.6,1.0),(23.62,0.28),(23.65,0.75),(23.68,0.48),(23.7,1.18),(23.72,0.15),(23.75,0.88),(23.78,0.35),(23.8,0.6),(23.82,1.05),(23.85,0.22),(23.88,0.72),(23.9,0.42),(23.92,0.95),(23.95,0.1),(23.98,0.55),(23.99,0.3),(23.06,0.7),(23.16,0.32),(23.26,0.6),(23.36,0.15),(23.46,0.88),(23.56,0.35),(23.66,0.1),(23.76,0.5),(23.86,0.4),(23.96,0.8),(23.14,0.55),(23.34,0.42),(23.54,0.55),(23.74,0.25),(23.94,0.2)]

a851_extra = [(23.93,0.47),(23.86,0.63),(23.77,0.27),(23.97,0.93),(23.69,0.77),(23.89,0.17),(23.61,0.53),(23.96,0.37),(23.74,1.07),(23.83,0.82),(23.91,0.05),(23.66,0.33),(23.79,0.71),(23.99,0.61),(23.57,0.93),(23.87,0.97),(23.71,0.43),(23.94,0.31),(23.64,0.63),(23.81,0.13),
(23.43,0.73),(23.27,0.37),(23.37,0.97),(23.13,0.83),(23.47,0.23),(23.21,0.61),(23.33,0.13),(23.06,0.27),(23.41,1.17),(23.17,0.93),
(22.87,0.73),(22.63,0.47),(22.93,0.97),(22.71,0.13),(22.57,1.13),(22.83,0.29),(22.69,0.57),(22.96,0.67),
(23.53,1.41),(23.77,1.33),(23.27,1.47),(22.87,1.37),(22.53,1.57),(21.67,1.53),(21.13,1.47),(20.77,1.53),(22.31,1.57),(23.67,1.61),(23.93,1.52),(23.13,1.63)]

a851_more = [(23.93,0.72),(23.86,0.41),(23.78,0.83),(23.97,0.21),(23.7,0.57),(23.9,1.12),(23.63,0.86),(23.98,0.07),(23.82,0.47),(23.75,0.64),
(23.46,0.51),(23.31,0.91),(23.39,0.43),(23.17,0.67),(23.44,1.03),(23.23,0.35),(22.89,0.55),(22.77,0.93),(22.63,0.77),(22.41,0.66),
(22.37,1.47),(22.63,1.41),(22.91,1.45),(23.17,1.51),(23.41,1.42),(23.61,1.35),(23.83,1.47),(21.93,1.43),(21.57,1.62),(21.23,1.55),(20.67,1.57),(20.27,1.61),(22.06,1.61),(22.81,1.53),(23.23,1.31),(23.57,1.27)]

points = [a697 + a697_extra + a697_more,
          a1914 + a1914_extra + a1914_more,
          a2104 + a2104_extra + a2104_more,
          a2163 + a2163_extra + a2163_more,
          a851 + a851_extra + a851_more]
slots = [(0, 0), (0, 1), (1, 0), (1, 1), (1, 2)]

sns.set_style("white")
plt.rcParams["font.family"] = ["Liberation Sans", "DejaVu Sans"]

fig = plt.figure(figsize=(8.17, 8.17), dpi=100)
gs = fig.add_gridspec(2, 3, left=0.1077, right=0.9486, top=0.9474, bottom=0.1053,
                      wspace=0, hspace=0)

for i, name in enumerate(clusters):
    row, col = slots[i]
    ax = fig.add_subplot(gs[row, col])
    df = pd.DataFrame(points[i], columns=["r", "gr"])
    sns.scatterplot(data=df, x="r", y="gr", ax=ax, s=3, color="black",
                    marker="s", linewidth=0, legend=False)
    ax.plot([16, 24], red_ends[i], color="#ff0000", lw=1.5)
    ax.plot([16, 24], blue_ends[i], color="#0000ff", lw=1.5)
    ax.axvline(mag_limits[i], color="black", lw=1.1, dashes=(15, 4))
    ax.text(17.0, 2.32, name, fontsize=12, fontweight="bold",
            family="DejaVu Serif", va="center", ha="left")

    ax.set_xlim(16, 24)
    ax.set_ylim(0, 2.78)
    ax.set_xlabel("")
    ax.set_ylabel("")
    ax.xaxis.set_major_locator(MultipleLocator(2))
    ax.xaxis.set_minor_locator(MultipleLocator(0.5))
    ax.yaxis.set_major_locator(MultipleLocator(0.5))
    ax.yaxis.set_minor_locator(MultipleLocator(0.1))
    ax.xaxis.set_major_formatter(FuncFormatter(lambda v, p: "" if v > 23.5 else f"{v:g}"))
    ax.yaxis.set_major_formatter(FuncFormatter(lambda v, p: f"{v:g}"))
    ax.tick_params(which="both", direction="in", top=True, right=True,
                   width=1.0, color="black", labelsize=13.5, pad=9)
    ax.tick_params(which="major", length=8.5)
    ax.tick_params(which="minor", length=4.5)
    if col != 0:
        ax.tick_params(labelleft=False)
    if row == 0:
        ax.tick_params(labelbottom=False)
    for sp in ax.spines.values():
        sp.set_linewidth(1.1)
        sp.set_color("black")

fig.text(0.034, 0.529, "g\u2212r", rotation=90, fontsize=11, family="DejaVu Serif",
         style="italic", fontweight="bold", ha="center", va="center")
fig.text(0.5275, 0.054, "r", fontsize=12, family="DejaVu Serif",
         fontweight="bold", ha="center", va="center")

fig.savefig("out.png", dpi=100)
